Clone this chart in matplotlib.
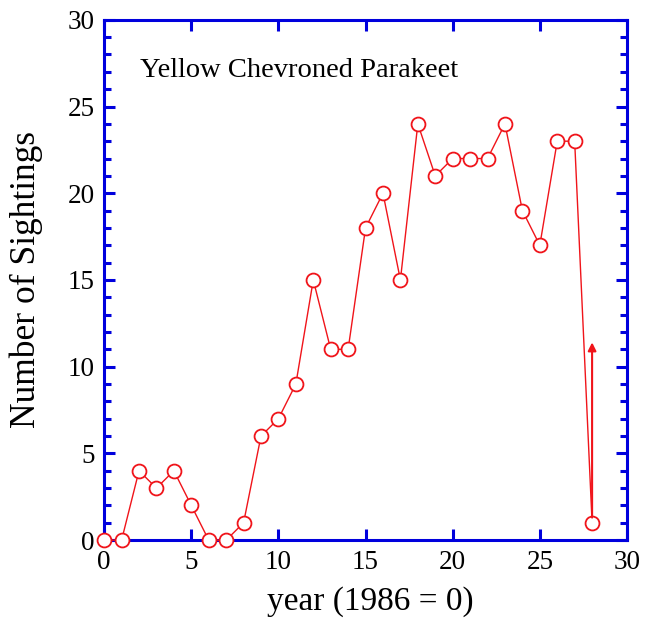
"""Yellow Chevroned Parakeet sightings per year."""

import matplotlib

matplotlib.use("Agg")
import matplotlib.pyplot as plt
from matplotlib.ticker import MultipleLocator, NullLocator

years = list(range(29))
sightings = [0, 0, 4, 3, 4, 2, 0, 0, 1, 6, 7, 9, 15, 11, 11, 18, 20, 15,
             24, 21, 22, 22, 22, 24, 19, 17, 23, 23, 1]
arrow_x = 28
arrow_from = 1.3
arrow_to = 11.4

RED = "#f0141a"
BLUE = "#0000dd"

plt.rcParams["font.family"] = ["Liberation Serif", "DejaVu Serif"]

fig = plt.figure(figsize=(6.47, 6.18), dpi=100)
ax = fig.add_axes((0.161, 0.126, 0.808, 0.842))

ax.plot(years, sightings, color=RED, linewidth=1.0, marker="o", markersize=10,
        markerfacecolor="white", markeredgecolor=RED, markeredgewidth=1.3,
        clip_on=False, zorder=3)
ax.annotate("", xy=(arrow_x, arrow_to), xytext=(arrow_x, arrow_from),
            arrowprops=dict(arrowstyle="-|>", color=RED, lw=1.5,
                            mutation_scale=12, shrinkA=0, shrinkB=0))

ax.set_xlim(0, 30)
ax.set_ylim(0, 30)
ax.xaxis.set_major_locator(MultipleLocator(5))
ax.xaxis.set_minor_locator(NullLocator())
ax.yaxis.set_major_locator(MultipleLocator(5))
ax.yaxis.set_minor_locator(MultipleLocator(1))

for side in ax.spines.values():
    side.set_color(BLUE)
    side.set_linewidth(2.2)
ax.tick_params(which="both", direction="in", color=BLUE, top=True, right=True,
               labelsize=19.5, labelcolor="black")
ax.tick_params(which="major", length=8, width=2.2, pad=7)
ax.tick_params(which="minor", length=5, width=2.2)

ax.set_xlabel("year (1986 = 0)", fontsize=24)
ax.xaxis.set_label_coords(0.51, -0.088)
ax.set_ylabel("Number of Sightings", fontsize=25.5)
ax.yaxis.set_label_coords(-0.117, 0.5)
ax.text(0.069, 0.89, "Yellow Chevroned Parakeet", transform=ax.transAxes,
        fontsize=20.5)

fig.savefig("out.png", dpi=100)
